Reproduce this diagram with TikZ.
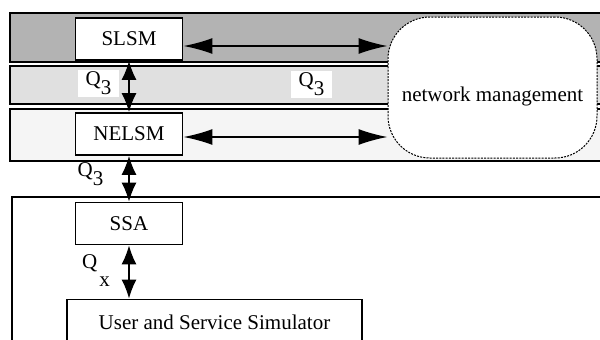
\documentclass[tikz,border=0pt]{standalone}
\usepackage{fontspec}
\setmainfont{Liberation Serif}
\usetikzlibrary{arrows.meta}
\usetikzlibrary{calc}
\definecolor{bandDark}{RGB}{179,179,179}
\definecolor{bandMid}{RGB}{224,224,224}
\definecolor{bandLight}{RGB}{245,245,245}

\begin{document}
\begin{tikzpicture}[x=1pt,y=-1pt,
			band/.style={draw=black,line width=1.9pt},
			module/.style={draw=black,fill=white,line width=1.9pt,minimum width=107pt,minimum height=42pt,inner sep=0pt},
			mgmt/.style={draw=black,fill=white,line width=1pt,dash pattern=on 2pt off 1.2pt,rounded corners=42pt,
				minimum width=209pt,minimum height=141pt,text height=32pt,inner sep=0pt},
			qbox/.style={fill=white,inner xsep=8pt,inner ysep=2pt},
			qtext/.style={inner sep=0pt},
			link/.style={line width=1.4pt,{Latex[length=29pt,width=16pt]}-{Latex[length=29pt,width=16pt]}},
			vlink/.style={line width=1.4pt,{Latex[length=19pt,width=15pt]}-{Latex[length=19pt,width=15pt]}},
			font=\fontsize{21}{25}\selectfont
			]
			\useasboundingbox (0,0) rectangle (600,340);
			\clip (0,0) rectangle (600,340);
			
			%% Layers
			\draw[band,fill=bandDark] (10,13) rectangle (620,62);
			\draw[band,fill=bandMid] (10,66) rectangle (620,104);
			\draw[band,fill=bandLight] (10,109) rectangle (620,161);
			\draw[band] (12,360) -- (12,197) -- (620,197);
			
			\node[mgmt] (nm) at (492.5,87.5) {network management};
			
			%% Modules
			\node[module] (slsm) at (129,39) {SLSM};
			\node[module] (nelsm) at (129,134) {NELSM};
			\node[module] (ssa) at (129,223.5) {SSA};
			\node[module,minimum width=295pt,minimum height=45pt] (user) at (214.5,322) {User and Service Simulator};
			
			%% Interfaces
			\node[qbox] (q3a) at (98.5,83.5) {Q\raisebox{-9pt}{3}};
			\node[qbox] (q3b) at (311.5,84.5) {Q\raisebox{-9pt}{3}};
			\node[qtext] (q3c) at (90.5,174.5) {Q\raisebox{-9pt}{3}};
			\node[qtext] (qx) at (96,271) {Q\raisebox{-18pt}{\hspace{2pt}x}};
			
			\draw[vlink] (slsm.south) -- (nelsm.north);
			\draw[vlink] (nelsm.south) -- (ssa.north);
			\draw[vlink] (ssa.south) -- (ssa.south |- user.north);
			\draw[link] ([yshift=-7pt]slsm.east) -- ([yshift=-7pt]slsm.east -| nm.west);
			\draw[link] ([yshift=-3pt]nelsm.east) -- ([yshift=-3pt]nelsm.east -| nm.west);
			
			%\draw[help lines] (0,0) grid[step=50] (600,340);
\end{tikzpicture}
\end{document}
